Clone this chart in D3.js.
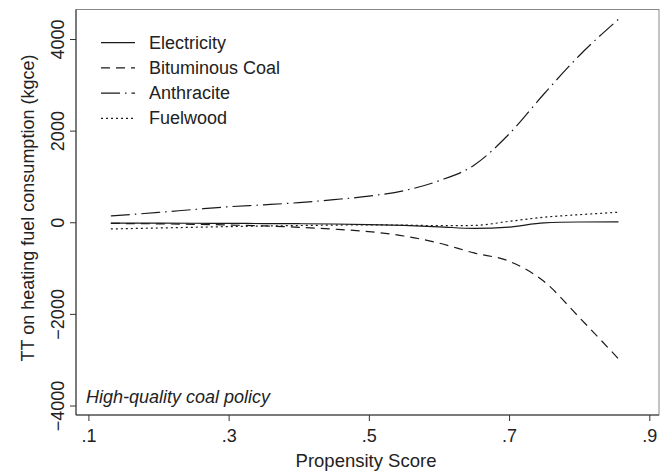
<!DOCTYPE html>
<html><head><meta charset="utf-8">
<script src="https://cdn.jsdelivr.net/npm/d3@7"></script>
<style>
body{margin:0;background:#fff;}
text{font-family:"Liberation Sans",Arial,Helvetica,sans-serif;fill:#222;}
</style></head>
<body><svg id="c" width="667" height="473"></svg>
<script>
const propensity = [0.132, 0.2, 0.25, 0.3, 0.35, 0.4, 0.45, 0.5, 0.55, 0.6, 0.65, 0.7, 0.75, 0.8, 0.856];
const electricity = [-20, -20, -22, -25, -28, -32, -38, -50, -70, -100, -135, -105, -12, 5, 8];
const bituminousCoal = [-25, -35, -45, -60, -80, -110, -150, -205, -300, -455, -670, -850, -1295, -2075, -2980];
const anthracite = [137, 215, 278, 338, 380, 428, 493, 570, 690, 905, 1245, 1925, 2805, 3635, 4430];
const fuelwood = [-146, -125, -110, -95, -82, -72, -62, -58, -62, -75, -70, 20, 110, 165, 218];
const seriesNames = ["Electricity", "Bituminous Coal", "Anthracite", "Fuelwood"];
const xTicks = [0.1, 0.3, 0.5, 0.7, 0.9];
const yTicks = [-4000, -2000, 0, 2000, 4000];

const svg = d3.select("#c");
const L = 76, R = 659, T = 9.5, B = 415;
const x = d3.scaleLinear().domain([0.1, 0.9]).range([88.4, 649.3]);
const y = d3.scaleLinear().domain([-4000, 4000]).range([405.5, 39]);

svg.append("rect").attr("x", L).attr("y", T).attr("width", R - L).attr("height", B - T)
  .attr("fill", "none").attr("stroke", "#888").attr("stroke-width", 1);

const styles = [
  {data: electricity, dash: null},
  {data: bituminousCoal, dash: "9,6"},
  {data: anthracite, dash: "19,5,1.5,5"},
  {data: fuelwood, dash: "2,3"}
];
const line = d3.line().x(d => x(d[0])).y(d => y(d[1])).curve(d3.curveMonotoneX);
styles.forEach(s => {
  svg.append("path").datum(propensity.map((p, i) => [p, s.data[i]]))
    .attr("d", line).attr("fill", "none").attr("stroke", "#1a1a1a")
    .attr("stroke-width", 1.2).attr("stroke-dasharray", s.dash);
});

// axes
const xAxis = d3.axisBottom(x).tickValues(xTicks).tickSize(6).tickPadding(8)
  .tickFormat(d => d.toFixed(1).replace(/^0/, ""));
const gx = svg.append("g").attr("transform", `translate(0,${B})`).call(xAxis);
gx.select(".domain").attr("d", `M${L},0H${R}`).attr("stroke", "#333");
gx.selectAll(".tick line").attr("stroke", "#333");
gx.selectAll(".tick text").attr("font-size", 18).attr("fill", "#222").attr("font-family", null);

const yAxis = d3.axisLeft(y).tickValues(yTicks).tickSize(6).tickPadding(0).tickFormat(d3.format("d"));
const gy = svg.append("g").attr("transform", `translate(${L},0)`).call(yAxis);
gy.select(".domain").attr("d", `M0,${T}V${B}`).attr("stroke", "#333");
gy.selectAll(".tick line").attr("stroke", "#333");
gy.selectAll(".tick text").attr("font-size", 18).attr("fill", "#222").attr("font-family", null)
  .attr("x", null).attr("dy", null).attr("text-anchor", "middle")
  .attr("transform", "translate(-12.5,0) rotate(-90)");

svg.append("text").attr("x", 366).attr("y", 467).attr("text-anchor", "middle")
  .attr("font-size", 18.5).text("Propensity Score");
svg.append("text").attr("transform", `translate(34,208) rotate(-90)`)
  .attr("text-anchor", "middle").attr("font-size", 18).text("TT on heating fuel consumption (kgce)");

// legend
const lg = svg.append("g");
seriesNames.forEach((n, i) => {
  const yy = 42.7 + i * 25.2;
  lg.append("line").attr("x1", 101).attr("x2", 135).attr("y1", yy).attr("y2", yy)
    .attr("stroke", "#1a1a1a").attr("stroke-width", 1.2).attr("stroke-dasharray", styles[i].dash);
  lg.append("text").attr("x", 149).attr("y", yy + 6).attr("font-size", 18).text(n);
});

svg.append("text").attr("x", 86).attr("y", 403).attr("font-size", 18).attr("font-style", "italic")
  .text("High-quality coal policy");
</script></body></html>
